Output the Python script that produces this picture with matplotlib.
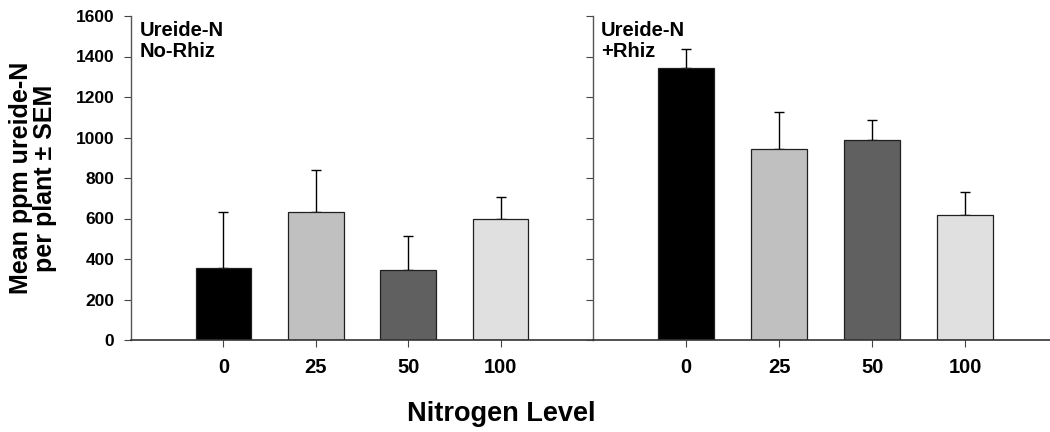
import numpy as np
import matplotlib
matplotlib.use("Agg")
import matplotlib.pyplot as plt

# nitrogen levels and mean ureide-N (ppm) per plant with SEM
levels = ["0", "25", "50", "100"]
no_rhiz_mean = [354, 632, 347, 598]
no_rhiz_sem = [276, 206, 168, 108]
rhiz_mean = [1342, 943, 986, 616]
rhiz_sem = [97, 181, 99, 113]
bar_colors = ["#000000", "#c0c0c0", "#606060", "#e0e0e0"]
panel_labels = ["Ureide-N\nNo-Rhiz", "Ureide-N\n+Rhiz"]

plt.rcParams.update({
    "font.family": ["Liberation Sans", "DejaVu Sans"],
    "font.weight": "bold",
})

fig = plt.figure(figsize=(10.5, 4.32), dpi=100)
ax_l = fig.add_axes([131 / 1050, 92 / 432, 462 / 1050, 324 / 432])
ax_r = fig.add_axes([593 / 1050, 92 / 432, 457 / 1050, 324 / 432])

x = np.arange(len(levels))
panels = [
    (ax_l, no_rhiz_mean, no_rhiz_sem, panel_labels[0], 4.0),
    (ax_r, rhiz_mean, rhiz_sem, panel_labels[1], 3.91),
]
for ax, means, sems, label, xmax in panels:
    ax.bar(x, means, width=0.6, color=bar_colors, edgecolor="#202020", linewidth=0.9, zorder=2)
    ax.errorbar(x, means, yerr=[np.zeros(len(sems)), sems], fmt="none",
                ecolor="black", elinewidth=1.0, capsize=3.6, capthick=1.0, zorder=1)
    ax.set_xlim(-1, xmax)
    ax.set_ylim(0, 1600)
    ax.set_yticks(np.arange(0, 1601, 200))
    ax.set_xticks(x)
    ax.set_xticklabels(levels, fontsize=14.5, fontweight="bold")
    ax.tick_params(axis="x", length=5, width=0.8, pad=8, colors="#444444", labelcolor="black")
    ax.tick_params(axis="y", length=5, width=0.8, pad=7, colors="#444444", labelcolor="black")
    for side in ["top", "right"]:
        ax.spines[side].set_visible(False)
    ax.spines["left"].set_color("#555555")
    ax.spines["bottom"].set_color("#333333")
    ax.spines["left"].set_linewidth(1.0)
    ax.spines["bottom"].set_linewidth(1.2)
    ax.text(0.018, 0.985, label, transform=ax.transAxes, ha="left", va="top",
            fontsize=14.5, fontweight="bold", linespacing=1.15)

ax_l.set_yticklabels([str(v) for v in range(0, 1601, 200)], fontsize=12.5, fontweight="bold")
ax_r.set_yticklabels([])

fig.text(33 / 1050, 1 - 178 / 432, "Mean ppm ureide-N\nper plant \u00b1 SEM", rotation=90,
         ha="center", va="center", fontsize=18, fontweight="bold", linespacing=1.0)
fig.text(501 / 1050, 1 - 414 / 432, "Nitrogen Level", ha="center", va="center",
         fontsize=19.5, fontweight="bold")

fig.savefig("out.png", dpi=100)
